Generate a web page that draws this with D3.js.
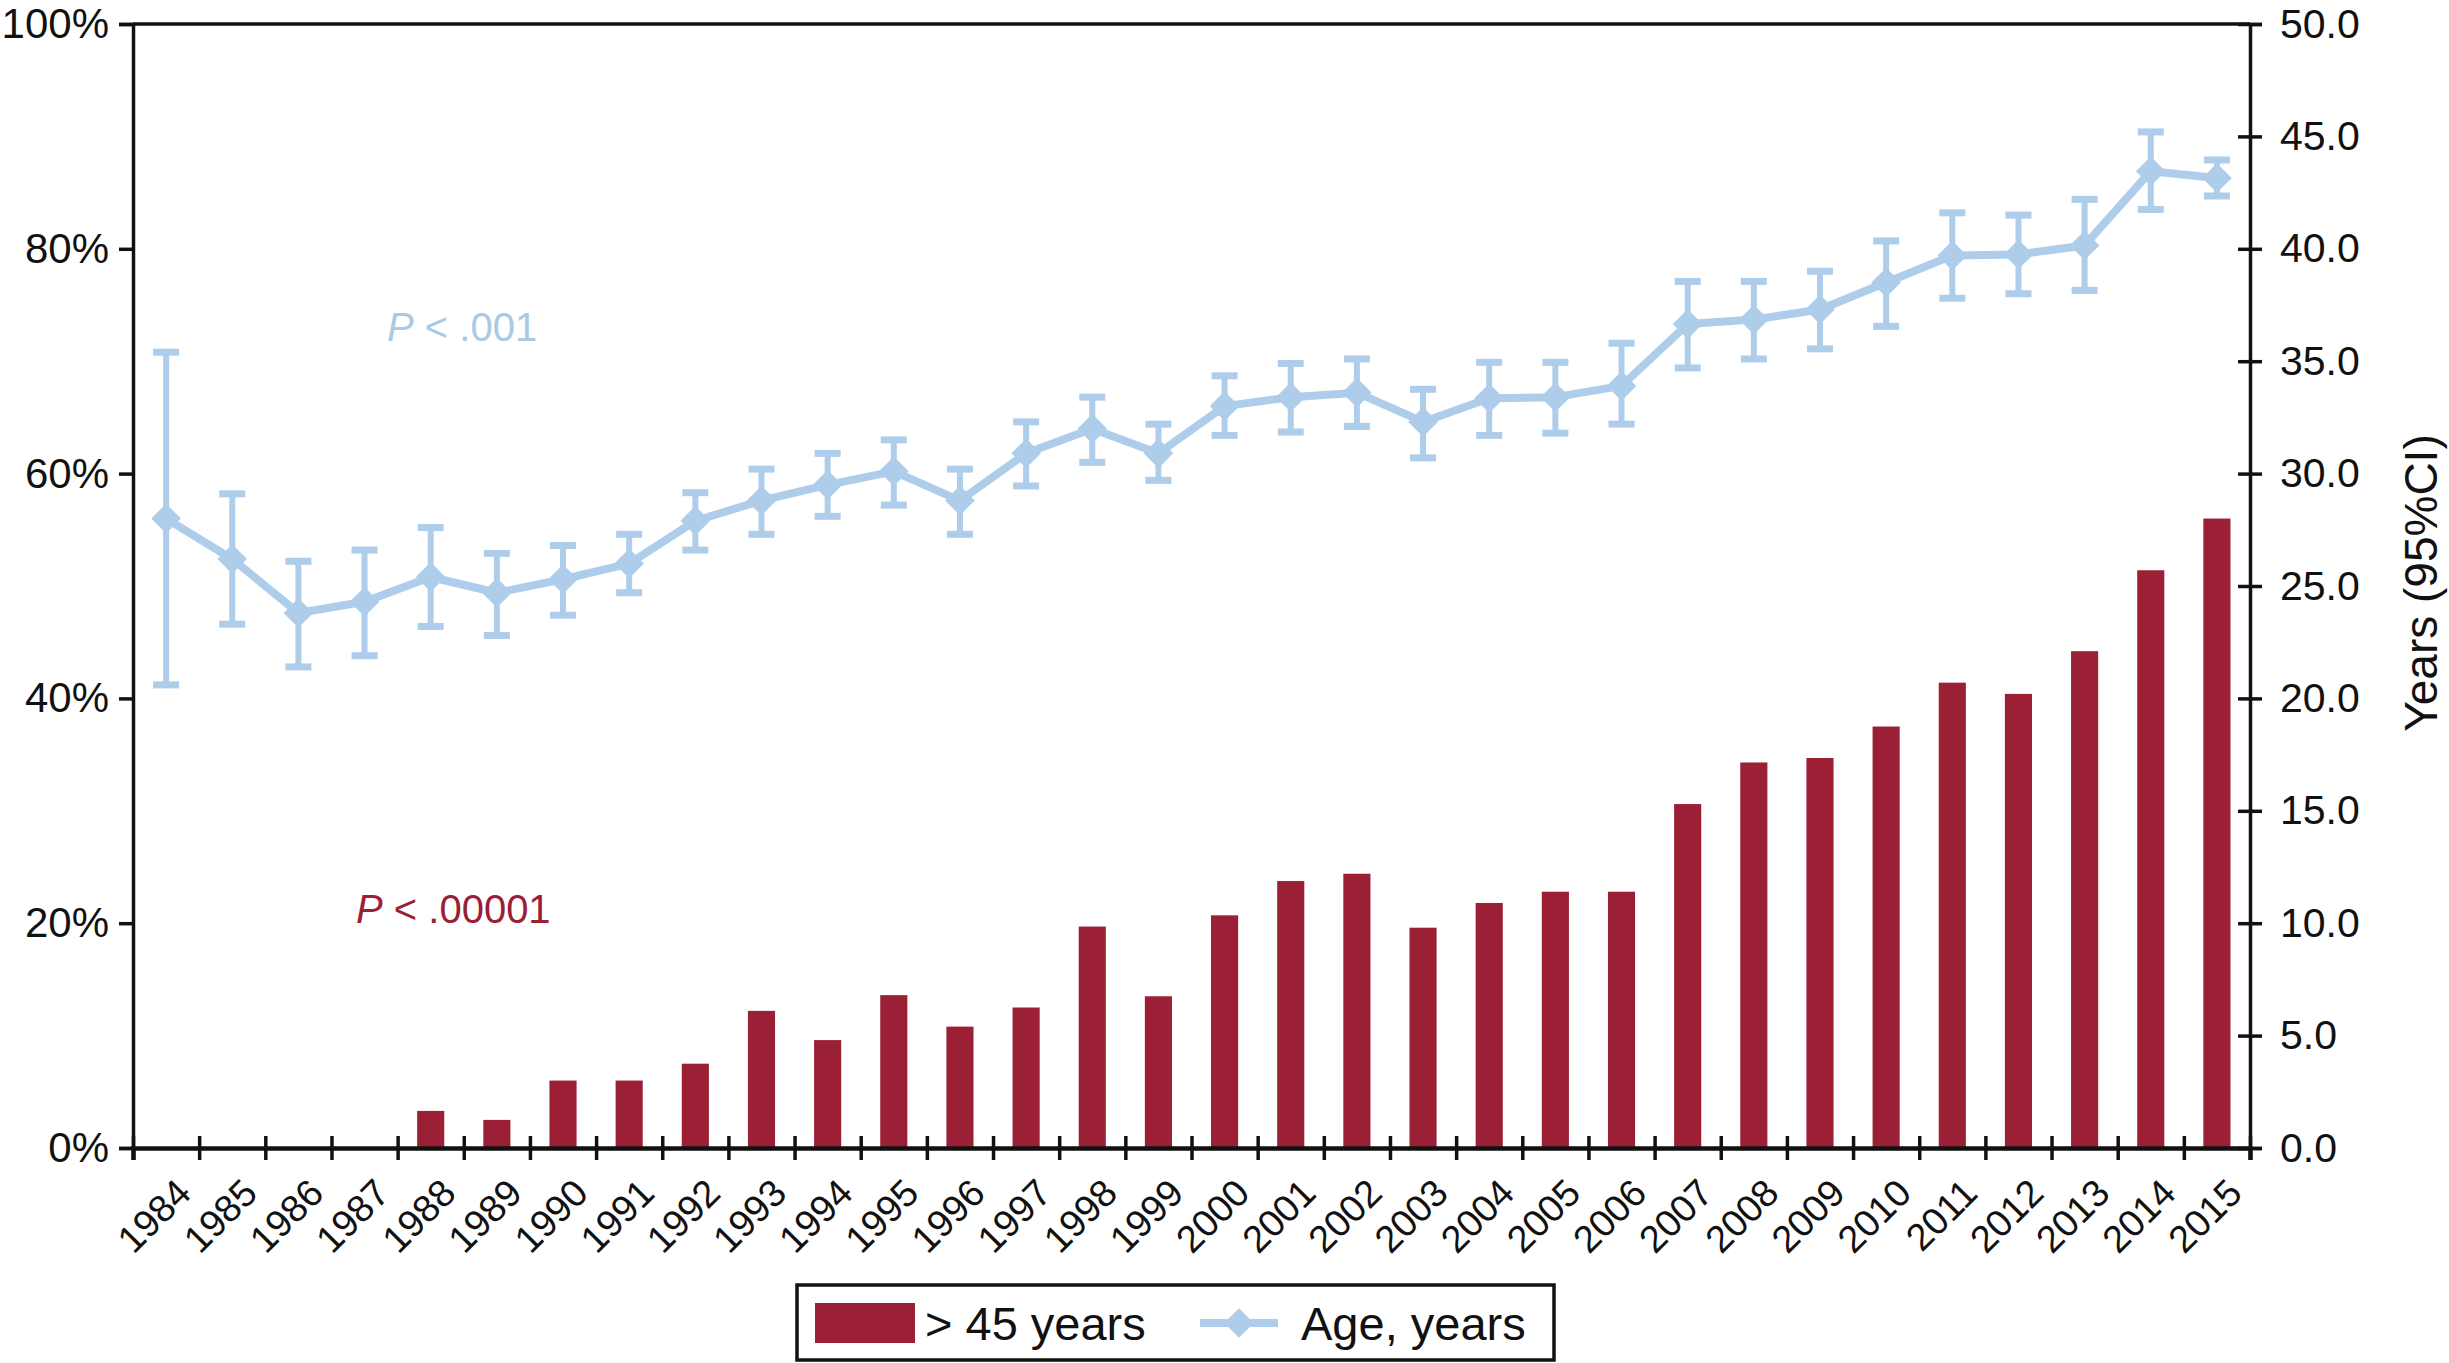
<!DOCTYPE html>
<html>
<head>
<meta charset="utf-8">
<script src="https://cdn.jsdelivr.net/npm/d3@7"></script>
<style>
  html, body { margin: 0; padding: 0; background: #fff; }
  svg { display: block; font-family: "Liberation Sans", Arial, Helvetica, sans-serif; }
</style>
</head>
<body>
<svg id="chart" width="2449" height="1363"></svg>
<script>
(function () {
// ---- data ----
const years = ["1984","1985","1986","1987","1988","1989","1990","1991","1992","1993","1994","1995","1996","1997","1998","1999","2000","2001","2002","2003","2004","2005","2006","2007","2008","2009","2010","2011","2012","2013","2014","2015"];
const pctOver45 = [0, 0, 0, 0, 3.3, 2.5, 6.0, 6.0, 7.5, 12.2, 9.6, 13.6, 10.8, 12.5, 19.7, 13.5, 20.7, 23.75, 24.4, 19.6, 21.8, 22.8, 22.8, 30.6, 34.3, 34.7, 37.5, 41.4, 40.4, 44.2, 51.4, 56.0];
const ageMean = [28.0, 26.2, 23.8, 24.3, 25.4, 24.7, 25.3, 26.0, 27.9, 28.8, 29.5, 30.1, 28.8, 30.9, 32.0, 30.9, 33.0, 33.4, 33.6, 32.3, 33.35, 33.4, 33.9, 36.65, 36.85, 37.3, 38.5, 39.7, 39.75, 40.15, 43.45, 43.15];
const ageLo = [20.6, 23.3, 21.4, 21.9, 23.2, 22.8, 23.7, 24.7, 26.6, 27.3, 28.1, 28.6, 27.3, 29.45, 30.5, 29.7, 31.7, 31.85, 32.1, 30.7, 31.7, 31.8, 32.2, 34.7, 35.1, 35.55, 36.55, 37.8, 38.0, 38.15, 41.75, 42.35];
const ageHi = [35.4, 29.1, 26.1, 26.6, 27.6, 26.45, 26.8, 27.3, 29.15, 30.2, 30.9, 31.5, 30.2, 32.3, 33.4, 32.2, 34.35, 34.9, 35.1, 33.75, 34.95, 34.95, 35.8, 38.55, 38.55, 39.0, 40.35, 41.6, 41.5, 42.2, 45.2, 43.95];
const pctTicks = [0, 20, 40, 60, 80, 100];
const ageTicks = [0, 5, 10, 15, 20, 25, 30, 35, 40, 45, 50];
const legendLabels = ["> 45 years", "Age, years"];
const yTitle = "Years (95%CI)";

// ---- style ----
const barColor = "#9B2036";
const lineColor = "#AECDEA";
const mLeft = 133, mRight = 2250, mTop = 24, mBottom = 1148;

const svg = d3.select("#chart");

const x = d3.scaleBand().domain(years).range([mLeft, mRight]).paddingInner(0.59).paddingOuter(0.295);
const xEdge = d3.scaleLinear().domain([0, years.length]).range([mLeft, mRight]);
const yPct = d3.scaleLinear().domain([0, 100]).range([mBottom, mTop]);
const yAge = d3.scaleLinear().domain([0, 50]).range([mBottom, mTop]);
const cx = d => x(d) + x.bandwidth() / 2;

// top border
svg.append("line").attr("x1", mLeft).attr("x2", mRight).attr("y1", mTop).attr("y2", mTop)
  .attr("stroke", "#111").attr("stroke-width", 3.5);

// bars
svg.append("g").selectAll("rect").data(years).join("rect")
  .attr("x", d => x(d))
  .attr("width", x.bandwidth())
  .attr("y", (d, i) => yPct(pctOver45[i]))
  .attr("height", (d, i) => yPct(0) - yPct(pctOver45[i]))
  .attr("fill", barColor);

// left axis
const gL = svg.append("g").attr("transform", `translate(${mLeft},0)`)
  .call(d3.axisLeft(yPct).tickValues(pctTicks).tickFormat(d => d + "%").tickSize(14).tickPadding(10));
gL.select(".domain").attr("stroke", "#111").attr("stroke-width", 3.5);
gL.selectAll(".tick line").attr("stroke", "#111").attr("stroke-width", 3.5);
gL.selectAll("text").attr("font-size", 42).attr("fill", "#111").attr("font-family", "Liberation Sans, Arial, sans-serif");

// right axis
const gR = svg.append("g").attr("transform", `translate(${mRight},0)`)
  .call(d3.axisRight(yAge).tickValues(ageTicks).tickFormat(d3.format(".1f")).tickSize(12).tickPadding(18));
gR.select(".domain").attr("stroke", "#111").attr("stroke-width", 3.5);
gR.selectAll(".tick line").attr("x1", -12).attr("x2", 12).attr("stroke", "#111").attr("stroke-width", 3.5);
gR.selectAll("text").attr("font-size", 41).attr("fill", "#111").attr("font-family", "Liberation Sans, Arial, sans-serif");

// bottom axis (ticks at category boundaries)
const gB = svg.append("g").attr("transform", `translate(0,${mBottom})`)
  .call(d3.axisBottom(xEdge).tickValues(d3.range(years.length + 1)).tickSize(12).tickFormat(""));
gB.select(".domain").attr("stroke", "#111").attr("stroke-width", 4.5);
gB.selectAll(".tick line").attr("y1", -12).attr("y2", 12).attr("stroke", "#111").attr("stroke-width", 3.5);

// x labels rotated
svg.append("g").selectAll("text").data(years).join("text")
  .attr("transform", d => `translate(${cx(d) + 8},${mBottom + 28}) rotate(-45)`)
  .attr("text-anchor", "end")
  .attr("dominant-baseline", "hanging")
  .attr("font-size", 38)
  .attr("fill", "#111")
  .text(d => d);

// error bars
const eb = svg.append("g").attr("stroke", lineColor);
eb.selectAll("line.stem").data(years).join("line").attr("class", "stem")
  .attr("x1", cx).attr("x2", cx)
  .attr("y1", (d, i) => yAge(ageLo[i])).attr("y2", (d, i) => yAge(ageHi[i]))
  .attr("stroke-width", 6);
eb.selectAll("line.capHi").data(years).join("line").attr("class", "capHi")
  .attr("x1", d => cx(d) - 13).attr("x2", d => cx(d) + 13)
  .attr("y1", (d, i) => yAge(ageHi[i])).attr("y2", (d, i) => yAge(ageHi[i]))
  .attr("stroke-width", 7);
eb.selectAll("line.capLo").data(years).join("line").attr("class", "capLo")
  .attr("x1", d => cx(d) - 13).attr("x2", d => cx(d) + 13)
  .attr("y1", (d, i) => yAge(ageLo[i])).attr("y2", (d, i) => yAge(ageLo[i]))
  .attr("stroke-width", 7);

// age line
const line = d3.line().x(d => cx(d)).y((d, i) => yAge(ageMean[i]));
svg.append("path").datum(years).attr("d", line)
  .attr("fill", "none").attr("stroke", lineColor).attr("stroke-width", 8).attr("stroke-linejoin", "round");

// diamonds
const diamond = d3.symbol().type(d3.symbolSquare).size(440);
svg.append("g").selectAll("path").data(years).join("path")
  .attr("d", diamond)
  .attr("transform", (d, i) => `translate(${cx(d)},${yAge(ageMean[i])}) rotate(45)`)
  .attr("fill", lineColor);

// P annotations
const p1 = svg.append("text").attr("x", 387).attr("y", 341).attr("font-size", 40).attr("fill", "#A9C9E6");
p1.append("tspan").attr("font-style", "italic").text("P");
p1.append("tspan").text(" < .001");
const p2 = svg.append("text").attr("x", 356).attr("y", 923).attr("font-size", 40).attr("fill", barColor);
p2.append("tspan").attr("font-style", "italic").text("P");
p2.append("tspan").text(" < .00001");

// right title
svg.append("text")
  .attr("transform", "translate(2421,583) rotate(-90)")
  .attr("text-anchor", "middle").attr("dominant-baseline", "central")
  .attr("font-size", 46).attr("fill", "#111")
  .text(yTitle);

// legend
const lg = svg.append("g");
lg.append("rect").attr("x", 797).attr("y", 1285).attr("width", 757).attr("height", 75)
  .attr("fill", "#fff").attr("stroke", "#111").attr("stroke-width", 3.5);
lg.append("rect").attr("x", 815).attr("y", 1303).attr("width", 100).attr("height", 40).attr("fill", barColor);
lg.append("text").attr("x", 925).attr("y", 1340).attr("font-size", 47).attr("fill", "#111").text(legendLabels[0]);
lg.append("line").attr("x1", 1200).attr("x2", 1278).attr("y1", 1323).attr("y2", 1323)
  .attr("stroke", lineColor).attr("stroke-width", 8);
lg.append("path").attr("d", diamond).attr("transform", "translate(1239,1323) rotate(45)").attr("fill", lineColor);
lg.append("text").attr("x", 1301).attr("y", 1340).attr("font-size", 47).attr("fill", "#111").text(legendLabels[1]);
})();
</script>
</body>
</html>
